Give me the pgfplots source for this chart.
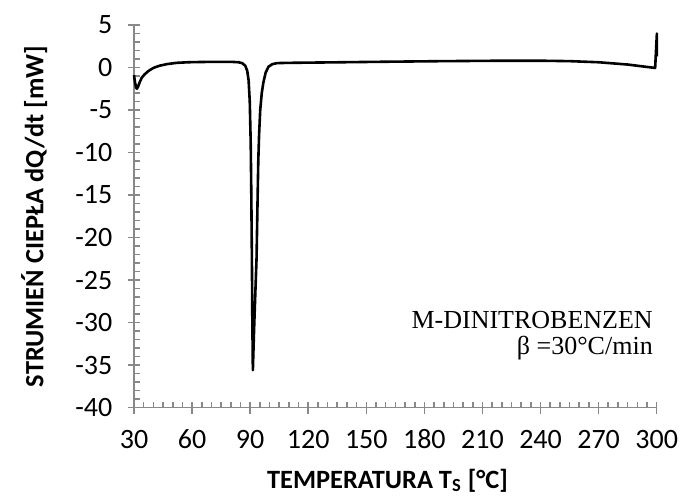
\documentclass[border=0pt]{standalone}
\usepackage{pgfplots}
\pgfplotsset{compat=1.18}
\usepackage{fontspec}
\setmainfont{Carlito}
\newfontfamily\serifann{Liberation Serif}
\definecolor{axisgray}{RGB}{137,137,137}
\begin{document}
\begin{tikzpicture}
\begin{axis}[
  at={(0,0)}, anchor=south west,
  scale only axis=true,
  width=261.35pt, height=191.35pt,
  xmin=30, xmax=300, ymin=-40, ymax=5,
  clip=false,
  axis lines*=left,
  axis line style={draw=axisgray, line width=0.8pt},
  every tick/.style={draw=axisgray, line width=0.8pt},
  tick align=inside,
  major tick length=3pt, minor tick length=3pt,
  xtick={30,60,90,120,150,180,210,240,270,300},
  xticklabels={30,60,90,120,150,180,210,240,270,300},
  ytick={-40,-35,-30,-25,-20,-15,-10,-5,0,5},
  yticklabels={-40,-35,-30,-25,-20,-15,-10,-5,0,5},
  minor x tick num=5, minor y tick num=4,
  extra x ticks={30,60,90,120,150,180,210,240,270,300},
  extra x tick labels={},
  extra y ticks={-40,-35,-30,-25,-20,-15,-10,-5,0,5},
  extra y tick labels={},
  extra tick style={tick align=outside, major tick length=3pt, minor tick num=0},
  ticklabel style={font=\fontsize{14}{16}\selectfont, text=black},
  xticklabel style={anchor=base, yshift=-20.5pt},
  yticklabel style={anchor=east, xshift=-7.3pt},
  xlabel={\textbf{TEMPERATURA T\textsubscript{S} [°C]}},
  ylabel={\textbf{STRUMIEŃ CIEPŁA dQ/dt [mW]}},
  label style={font=\fontsize{13.2}{15}\selectfont},
  xlabel style={at={(axis description cs:0.485,-0.21)}, anchor=base},
  ylabel style={at={(axis description cs:-0.191,0.5)}, anchor=center},
]
\addplot[black, line width=1.3pt, line join=round] coordinates {
(30.0,-0.9) (30.5,-1.7) (31.0,-2.3) (31.5,-2.5) (32.2,-2.2) (33.0,-1.7)
(34.0,-1.2) (35.5,-0.8) (37.5,-0.4) (40,-0.05) (43,0.2) (47,0.4)
(52,0.55) (58,0.62) (65,0.65) (72,0.67) (80,0.67) (84,0.62) (86,0.5)
(87.5,0.2) (88.5,-0.4) (89.2,-1.5) (89.8,-4) (90.3,-9) (90.6,-15)
(90.9,-22.5) (91.1,-29) (91.4,-35.6) (92.0,-31) (92.6,-27) (93.3,-22.5)
(93.8,-16) (94.2,-11) (94.6,-8) (95.2,-5) (96.0,-3) (96.8,-1.8)
(98,-0.6) (99.5,0.1) (101.5,0.4) (104,0.52) (110,0.55) (130,0.6)
(160,0.68) (190,0.75) (220,0.8) (240,0.8) (255,0.75) (270,0.62)
(285,0.35) (299.2,-0.05) (300.1,4.0) (300.1,1.3)
};
\node[anchor=base east, font=\serifann\fontsize{13}{15}\selectfont] at (rel axis cs:1.006,0.206) {M-DINITROBENZEN};
\node[anchor=base east, font=\serifann\fontsize{13}{15}\selectfont] at (rel axis cs:1.006,0.139) {β =30°C/min};
\end{axis}
\pgfresetboundingbox
\useasboundingbox (-67pt,-47.15pt) rectangle (273.5pt,203.85pt);
\end{tikzpicture}
\end{document}
